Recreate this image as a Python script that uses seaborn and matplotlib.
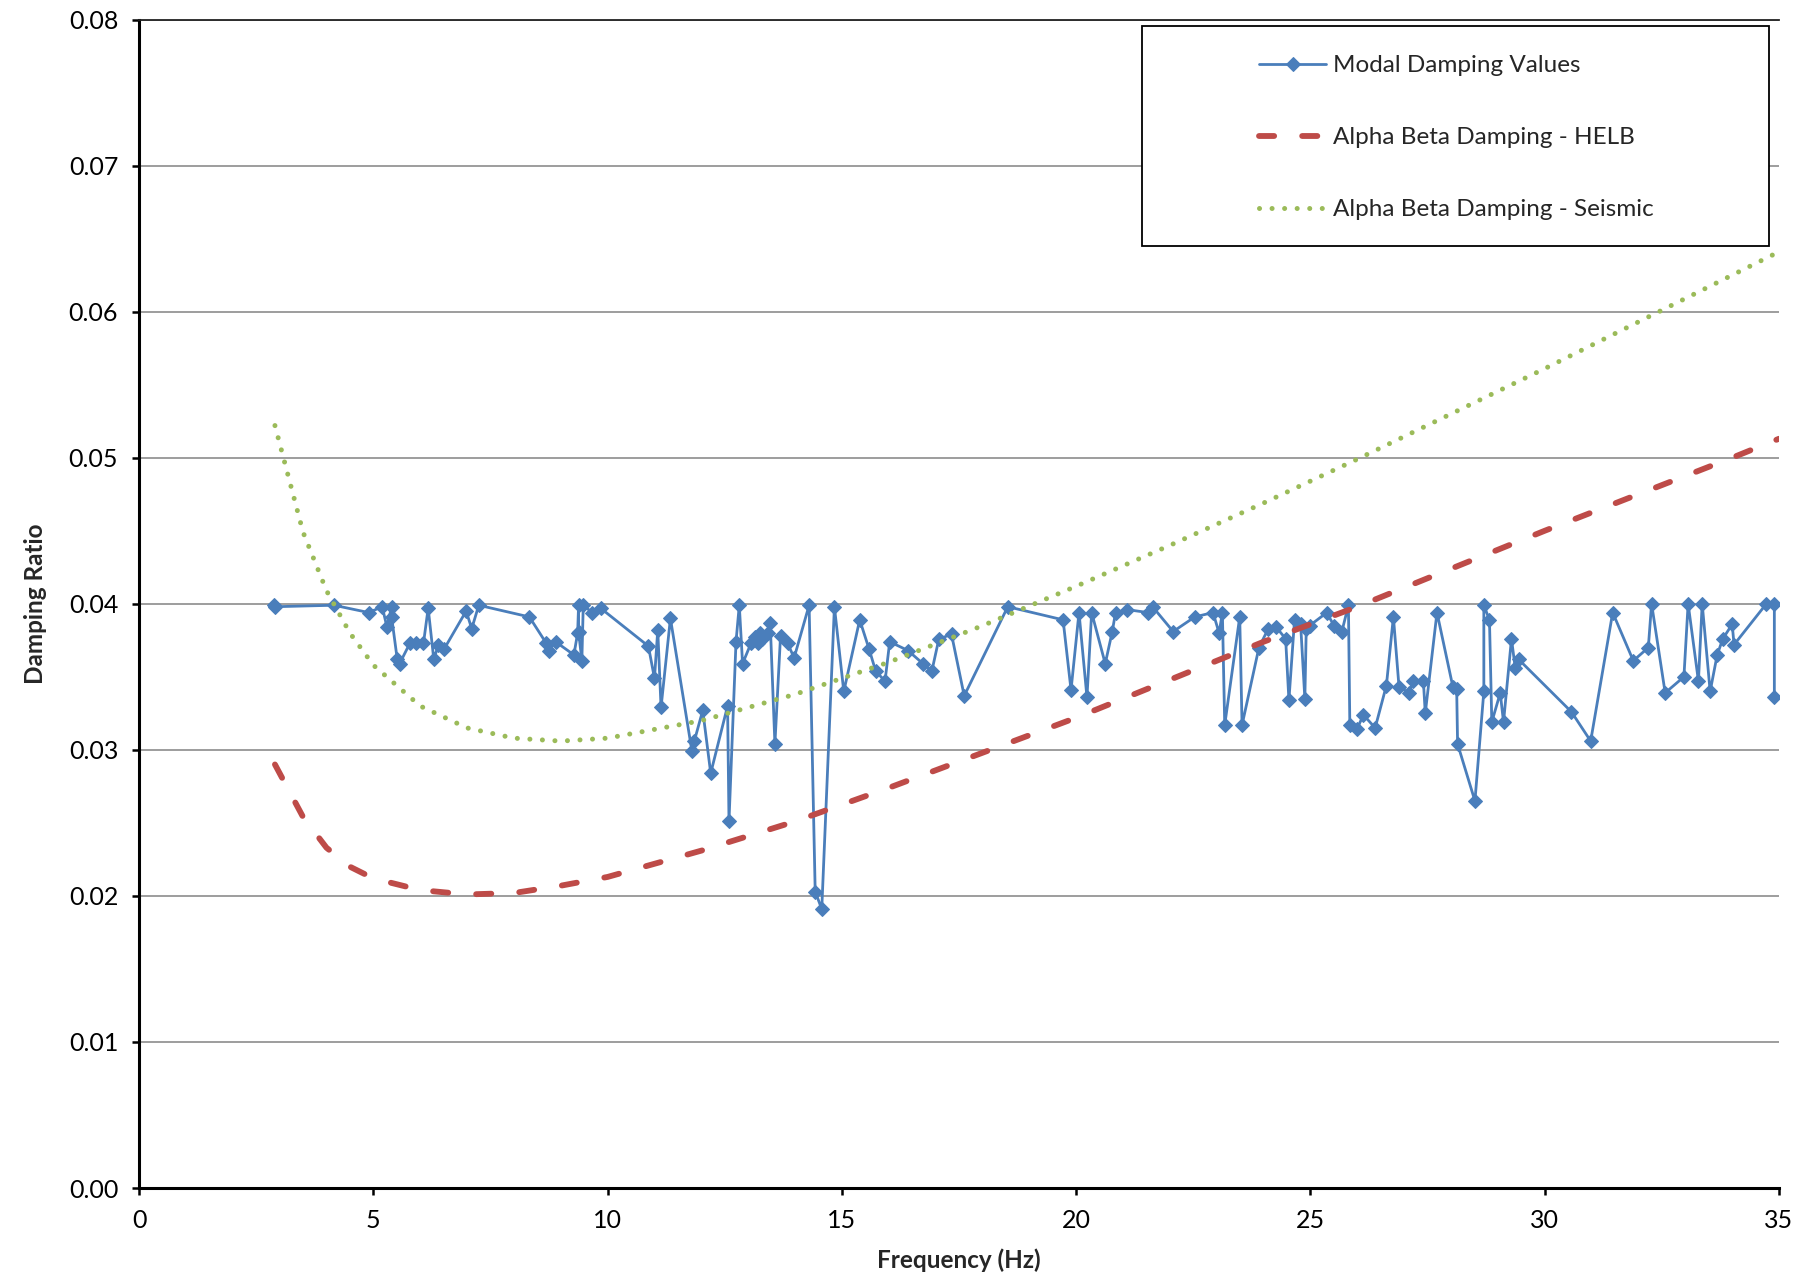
import matplotlib
matplotlib.use("Agg")
import matplotlib.pyplot as plt
from matplotlib.patches import Rectangle
from matplotlib.ticker import FormatStrFormatter, MultipleLocator
import pandas as pd
import seaborn as sns

# modal damping values (frequency in Hz, damping ratio)
freq_modal = [2.87, 2.91, 4.16, 4.90, 5.19, 5.29, 5.39, 5.39, 5.51, 5.56,
              5.78, 5.90, 6.07, 6.17, 6.29, 6.39, 6.51, 6.98, 7.10, 7.25,
              8.33, 8.69, 8.74, 8.89, 9.28, 9.36, 9.38, 9.38, 9.45, 9.48,
              9.67, 9.85, 10.87, 11.00, 11.07, 11.14, 11.34, 11.80, 11.85, 12.03,
              12.20, 12.56, 12.59, 12.74, 12.81, 12.88, 13.06, 13.15, 13.20, 13.25,
              13.30, 13.42, 13.47, 13.57, 13.69, 13.84, 13.98, 14.30, 14.43, 14.57,
              14.84, 15.04, 15.38, 15.58, 15.72, 15.92, 16.02, 16.41, 16.73, 16.92,
              17.07, 17.34, 17.61, 18.54, 19.72, 19.89, 20.06, 20.23, 20.33, 20.62,
              20.77, 20.84, 21.09, 21.53, 21.63, 22.07, 22.53, 22.92, 23.05, 23.12,
              23.17, 23.49, 23.54, 23.90, 24.10, 24.27, 24.47, 24.54, 24.66, 24.79,
              24.88, 24.91, 24.98, 25.35, 25.50, 25.67, 25.81, 25.84, 25.99, 26.13,
              26.38, 26.62, 26.77, 26.89, 27.11, 27.19, 27.41, 27.45, 27.70, 28.04,
              28.12, 28.14, 28.51, 28.70, 28.70, 28.82, 28.87, 29.05, 29.12, 29.29,
              29.37, 29.44, 30.57, 30.98, 31.45, 31.89, 32.21, 32.28, 32.57, 32.97,
              33.06, 33.28, 33.36, 33.53, 33.68, 33.80, 34.00, 34.04, 34.73, 34.90,
              34.90]
damp_modal = [0.0399, 0.0398, 0.0399, 0.0394, 0.0398, 0.0384, 0.0398, 0.0391, 0.0362, 0.0359,
              0.0373, 0.0373, 0.0373, 0.0397, 0.0362, 0.0372, 0.0369, 0.0395, 0.0383, 0.0399,
              0.0391, 0.0373, 0.0368, 0.0374, 0.0365, 0.0380, 0.0399, 0.0381, 0.0361, 0.0399,
              0.0394, 0.0397, 0.0371, 0.0349, 0.0382, 0.0329, 0.0390, 0.0299, 0.0306, 0.0327,
              0.0284, 0.0330, 0.0251, 0.0374, 0.0399, 0.0359, 0.0373, 0.0377, 0.0373, 0.0380,
              0.0376, 0.0380, 0.0387, 0.0304, 0.0378, 0.0373, 0.0363, 0.0399, 0.0203, 0.0191,
              0.0398, 0.0340, 0.0389, 0.0369, 0.0354, 0.0347, 0.0374, 0.0368, 0.0359, 0.0354,
              0.0376, 0.0379, 0.0337, 0.0398, 0.0389, 0.0341, 0.0394, 0.0336, 0.0394, 0.0359,
              0.0381, 0.0394, 0.0396, 0.0394, 0.0398, 0.0381, 0.0391, 0.0394, 0.0380, 0.0394,
              0.0317, 0.0391, 0.0317, 0.0370, 0.0383, 0.0384, 0.0376, 0.0334, 0.0389, 0.0386,
              0.0335, 0.0383, 0.0385, 0.0394, 0.0385, 0.0381, 0.0399, 0.0317, 0.0314, 0.0324,
              0.0315, 0.0344, 0.0391, 0.0343, 0.0339, 0.0347, 0.0347, 0.0325, 0.0394, 0.0343,
              0.0342, 0.0304, 0.0265, 0.0340, 0.0399, 0.0389, 0.0319, 0.0339, 0.0319, 0.0376,
              0.0356, 0.0362, 0.0326, 0.0306, 0.0394, 0.0361, 0.0370, 0.0400, 0.0339, 0.0350,
              0.0400, 0.0347, 0.0400, 0.0340, 0.0365, 0.0376, 0.0386, 0.0372, 0.0400, 0.0400,
              0.0336]

# alpha-beta damping curves, sampled off the chart
freq_ab = [2.9, 3.5, 4, 4.5, 5, 6, 7, 8, 9, 10, 12, 14, 16, 18, 20,
           22, 24, 26, 28, 30, 32, 34, 35]
damp_helb = [0.0290, 0.0254, 0.0233, 0.0220, 0.0212, 0.0204, 0.0201, 0.0202, 0.0207, 0.0213,
             0.0231, 0.0251, 0.0274, 0.0298, 0.0322, 0.0348, 0.0374, 0.0398, 0.0424, 0.0450,
             0.0475, 0.0500, 0.0513]
damp_seismic = [0.0522, 0.0449, 0.0409, 0.0380, 0.0358, 0.0330, 0.0315, 0.0308, 0.0306, 0.0308,
                0.0320, 0.0338, 0.0360, 0.0385, 0.0412, 0.0440, 0.0469, 0.0499, 0.0530, 0.0561,
                0.0593, 0.0625, 0.0641]

modal = pd.DataFrame({"f": freq_modal, "z": damp_modal})
ab = pd.DataFrame({"f": freq_ab, "helb": damp_helb, "seis": damp_seismic})

sns.set_style("white")
plt.rcParams["font.family"] = ["Lato", "DejaVu Sans"]

fig = plt.figure(figsize=(17.99, 12.83), dpi=100)
ax = fig.add_axes([0.0773, 0.074, 0.9116, 0.9108])

sns.lineplot(data=modal, x="f", y="z", ax=ax, sort=False, estimator=None,
             color="#4A7EBB", lw=2.0, marker="D", markersize=7.5,
             markeredgecolor="#4A7EBB", label="Modal Damping Values", zorder=3)
sns.lineplot(data=ab, x="f", y="helb", ax=ax, sort=False, estimator=None,
             color="#BE4B48", lw=4.2, label="Alpha Beta Damping - HELB", zorder=3)
l_helb = ax.lines[-1]
l_helb.set_dashes((2.6, 4.8))
l_helb.set_dash_capstyle("round")
sns.lineplot(data=ab, x="f", y="seis", ax=ax, sort=False, estimator=None,
             color="#9BBB59", lw=3.6, label="Alpha Beta Damping - Seismic", zorder=3)
l_seis = ax.lines[-1]
l_seis.set_dashes((0.01, 2.5))
l_seis.set_dash_capstyle("round")

ax.set_xlim(0, 35)
ax.set_ylim(0, 0.08)
ax.xaxis.set_major_locator(MultipleLocator(5))
ax.yaxis.set_major_locator(MultipleLocator(0.01))
ax.yaxis.set_major_formatter(FormatStrFormatter("%.2f"))
ax.grid(axis="y", color="#8c8c8c", lw=1.2)
ax.set_axisbelow(True)
ax.spines["right"].set_visible(False)
ax.spines["top"].set_color("#222222")
ax.spines["top"].set_linewidth(1.3)
for s in ["left", "bottom"]:
    ax.spines[s].set_color("black")
    ax.spines[s].set_linewidth(2.2)
ax.tick_params(axis="both", direction="out", length=5, width=1.8, pad=10,
               labelsize=18, colors="black", left=True, bottom=True)
ax.set_xlabel("Frequency (Hz)", fontsize=17.5, fontweight="bold", labelpad=12)
ax.set_ylabel("Damping Ratio", fontsize=17.5, fontweight="bold", labelpad=16)

# legend box (drawn separately: it's much wider than its entries)
box = Rectangle((0.635, 0.808), 0.3485, 0.1715, transform=fig.transFigure,
                facecolor="white", edgecolor="black", lw=1.3, zorder=4, clip_on=False)
ax.add_patch(box)
handles, labels = ax.get_legend_handles_labels()
leg = ax.legend(handles, labels, loc="upper left", bbox_to_anchor=(0.700, 0.957),
                bbox_transform=fig.transFigure, frameon=False, borderpad=0,
                borderaxespad=0, handlelength=2.75, handletextpad=0.3,
                labelspacing=2.1, fontsize=17.5)
leg.set_zorder(6)

fig.savefig("out.png", dpi=100)
